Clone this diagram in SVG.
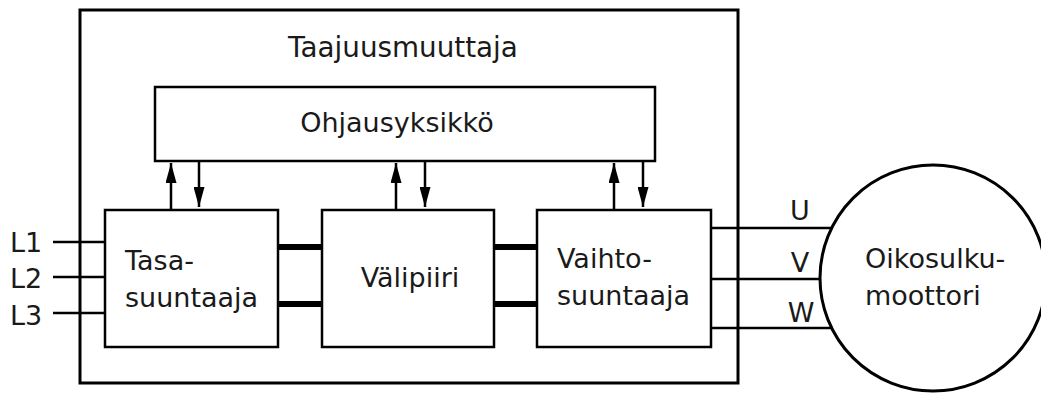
<svg xmlns="http://www.w3.org/2000/svg" width="1041" height="394" viewBox="0 0 1041 394">
<style>
.box{fill:none;stroke:#000;stroke-width:2.5}
.outer{fill:none;stroke:#000;stroke-width:3}
.t{font-family:"DejaVu Sans",Verdana,sans-serif;font-size:27px;fill:#1a1a1a}
.w{stroke:#000;stroke-width:2.5;fill:none}
.bus{stroke:#000;stroke-width:6;fill:none}
.sig{stroke:#000;stroke-width:2.5;fill:none;marker-end:url(#ah)}
</style>
<defs>
<marker id="ah" markerUnits="userSpaceOnUse" markerWidth="20" markerHeight="11" refX="20" refY="5.5" orient="auto">
<path d="M0,0 L20,5.5 L0,11 z" fill="#000"/>
</marker>
</defs>
<rect x="0" y="0" width="1041" height="394" fill="#fff"/>
<g id="taajuusmuuttaja">
<rect class="outer" x="80" y="10" width="658" height="373"/>
<text class="t" x="403" y="57" text-anchor="middle" style="font-size:27.8px">Taajuusmuuttaja</text>
</g>
<g id="ohjausyksikko">
<rect class="box" x="155" y="87" width="500" height="74"/>
<text class="t" x="397" y="132" text-anchor="middle">Ohjausyksikkö</text>
</g>
<g id="tasasuuntaaja">
<rect class="box" x="105" y="210" width="173" height="137"/>
<text class="t" x="125" y="270">Tasa-</text>
<text class="t" x="125" y="307">suuntaaja</text>
</g>
<g id="valipiiri">
<rect class="box" x="322" y="210" width="172" height="137"/>
<text class="t" x="410" y="287" text-anchor="middle">Välipiiri</text>
</g>
<g id="vaihtosuuntaaja">
<rect class="box" x="537" y="210" width="174" height="137"/>
<text class="t" x="557" y="268">Vaihto-</text>
<text class="t" x="557" y="305">suuntaaja</text>
</g>
<g id="moottori">
<circle cx="933" cy="278" r="113" fill="none" stroke="#000" stroke-width="3"/>
<text class="t" x="865" y="268">Oikosulku-</text>
<text class="t" x="865" y="305">moottori</text>
</g>
<g id="connectors">
<line class="w" x1="53" y1="242" x2="105" y2="242"/>
<line class="w" x1="53" y1="277" x2="105" y2="277"/>
<line class="w" x1="53" y1="313" x2="105" y2="313"/>
<line class="bus" x1="278" y1="247" x2="322" y2="247"/>
<line class="bus" x1="278" y1="304" x2="322" y2="304"/>
<line class="bus" x1="494" y1="247" x2="537" y2="247"/>
<line class="bus" x1="494" y1="304" x2="537" y2="304"/>
<line class="w" x1="711" y1="228" x2="833" y2="228"/>
<line class="w" x1="711" y1="279" x2="821" y2="279"/>
<line class="w" x1="711" y1="328" x2="833" y2="328"/>
<line class="sig" x1="171" y1="209" x2="171" y2="163"/>
<line class="sig" x1="199" y1="162" x2="199" y2="207"/>
<line class="sig" x1="396" y1="209" x2="396" y2="163"/>
<line class="sig" x1="425" y1="162" x2="425" y2="207"/>
<line class="sig" x1="614" y1="209" x2="614" y2="163"/>
<line class="sig" x1="643" y1="162" x2="643" y2="207"/>
</g>
<g id="labels">
<text class="t" x="10" y="252">L1</text>
<text class="t" x="10" y="288">L2</text>
<text class="t" x="10" y="325">L3</text>
<text class="t" x="800" y="220" text-anchor="middle">U</text>
<text class="t" x="800" y="272" text-anchor="middle">V</text>
<text class="t" x="801" y="322" text-anchor="middle">W</text>
</g>
</svg>
